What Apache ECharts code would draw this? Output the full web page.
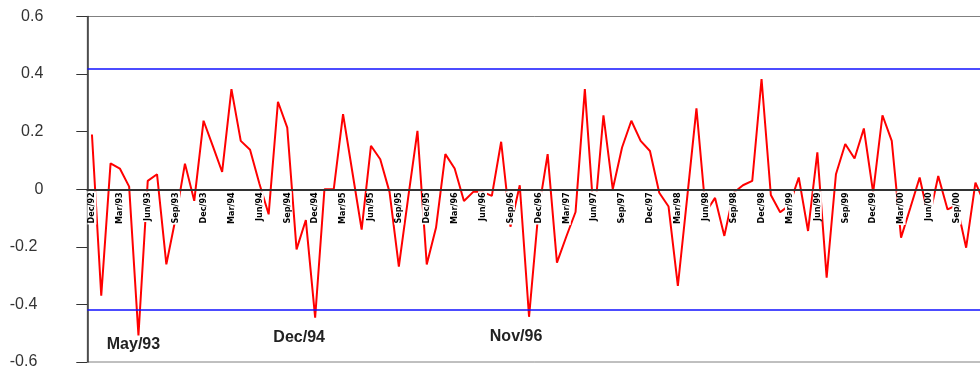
<!DOCTYPE html>
<html>
<head>
<meta charset="utf-8">
<script src="https://cdn.jsdelivr.net/npm/echarts@6/dist/echarts.min.js"></script>
<style>
html,body{margin:0;padding:0;background:#fff;}
#chart{width:980px;height:371px;}
</style>
</head>
<body>
<div id="chart"></div>
<script>
var categories = [
'Dec/92',
'Jan/93','Feb/93','Mar/93','Apr/93','May/93','Jun/93','Jul/93','Aug/93','Sep/93','Oct/93','Nov/93','Dec/93',
'Jan/94','Feb/94','Mar/94','Apr/94','May/94','Jun/94','Jul/94','Aug/94','Sep/94','Oct/94','Nov/94','Dec/94',
'Jan/95','Feb/95','Mar/95','Apr/95','May/95','Jun/95','Jul/95','Aug/95','Sep/95','Oct/95','Nov/95','Dec/95',
'Jan/96','Feb/96','Mar/96','Apr/96','May/96','Jun/96','Jul/96','Aug/96','Sep/96','Oct/96','Nov/96','Dec/96',
'Jan/97','Feb/97','Mar/97','Apr/97','May/97','Jun/97','Jul/97','Aug/97','Sep/97','Oct/97','Nov/97','Dec/97',
'Jan/98','Feb/98','Mar/98','Apr/98','May/98','Jun/98','Jul/98','Aug/98','Sep/98','Oct/98','Nov/98','Dec/98',
'Jan/99','Feb/99','Mar/99','Apr/99','May/99','Jun/99','Jul/99','Aug/99','Sep/99','Oct/99','Nov/99','Dec/99',
'Jan/00','Feb/00','Mar/00','Apr/00','May/00','Jun/00','Jul/00','Aug/00','Sep/00','Oct/00','Nov/00','Dec/00'
];

var values = [
0.19,-0.37,0.09,0.072,0.009,-0.508,0.029,0.052,-0.261,-0.1,0.089,-0.04,
0.238,0.15,0.06,0.348,0.168,0.137,0.02,-0.087,0.304,0.214,-0.209,-0.107,
-0.446,0,0,0.261,0.06,-0.14,0.151,0.104,-0.01,-0.269,-0.03,0.203,
-0.261,-0.133,0.122,0.072,-0.041,-0.009,-0.009,-0.023,0.165,-0.13,0.014,-0.443,
-0.08,0.122,-0.255,-0.165,-0.079,0.348,-0.11,0.257,0,0.145,0.238,0.168,
0.133,-0.012,-0.06,-0.336,-0.03,0.281,-0.08,-0.03,-0.162,-0.012,0.014,0.029,
0.383,-0.02,-0.08,-0.055,0.041,-0.145,0.128,-0.307,0.052,0.157,0.107,0.211,
-0.012,0.257,0.168,-0.168,-0.064,0.041,-0.104,0.046,-0.07,-0.055,-0.203,0.023,
-0.05
];

var controlLimits = [0.417, -0.417];
var yTicks = { min: -0.6, max: 0.6, interval: 0.2 };

var annotationMonths = ['May/93', 'Dec/94', 'Nov/96'];
var annotationOffsets = [[-5, 9], [-16, 20], [-13, 20]];

var gridTop = 16.5, gridHeight = 345.5;
// shift the category axis (line + labels) from the bottom edge up to value 0
var zeroOffset = -gridHeight * (0 - yTicks.min) / (yTicks.max - yTicks.min);

var chart = echarts.init(document.getElementById('chart'), null, { renderer: 'canvas' });

var markPoints = annotationMonths.map(function (m, k) {
  var idx = categories.indexOf(m);
  return {
    coord: [m, values[idx]],
    symbol: 'circle',
    symbolSize: 1,
    itemStyle: { color: 'rgba(0,0,0,0)' },
    label: {
      show: true,
      position: 'inside',
      offset: annotationOffsets[k],
      formatter: m,
      fontFamily: 'Liberation Sans, Arial, sans-serif',
      fontWeight: 'bold',
      fontSize: 16,
      color: '#222'
    }
  };
});

var option = {
  backgroundColor: '#fff',
  animation: false,
  grid: {
    left: 87.3,
    top: gridTop,
    height: gridHeight,
    width: categories.length * 9.3,
    show: true,
    borderColor: '#808080',
    borderWidth: 1,
    containLabel: false,
    outerBoundsMode: 'none'
  },
  xAxis: {
    type: 'category',
    data: categories,
    boundaryGap: true,
    position: 'bottom',
    offset: zeroOffset,
    z: 5,
    axisLine: { onZero: false, lineStyle: { color: '#333', width: 2 } },
    axisTick: { show: false },
    splitLine: { show: false },
    axisLabel: {
      interval: 2,
      rotate: 90,
      margin: 2,
      fontSize: 9,
      fontWeight: 'bold',
      fontFamily: 'Liberation Sans Narrow, DejaVu Sans Condensed, sans-serif',
      color: '#000',
      backgroundColor: '#fff',
      padding: [0, 1, 0, 1],
      hideOverlap: false
    }
  },
  yAxis: {
    type: 'value',
    min: yTicks.min,
    max: yTicks.max,
    interval: yTicks.interval,
    axisLine: { show: true, lineStyle: { color: '#333', width: 1.5 } },
    axisTick: { show: true, inside: false, length: 11, lineStyle: { color: '#333', width: 1 } },
    splitLine: { show: false },
    axisLabel: {
      margin: 44,
      fontSize: 16,
      fontFamily: 'Liberation Sans, Arial, sans-serif',
      color: '#333',
      formatter: function (v) {
        var s = String(Math.round(v * 10) / 10);
        return v < -1e-9 ? '{n|' + s + '}' : '{p|' + s + '}';
      },
      rich: {
        p: { fontSize: 16, color: '#333', fontFamily: 'Liberation Sans, Arial, sans-serif', padding: [0, 0, 0, 0] },
        n: { fontSize: 16, color: '#333', fontFamily: 'Liberation Sans, Arial, sans-serif', padding: [0, 6, 0, 0] }
      }
    }
  },
  series: [{
    type: 'line',
    data: values,
    symbol: 'none',
    z: 2,
    lineStyle: { color: '#ff0000', width: 2 },
    itemStyle: { color: '#ff0000' },
    markLine: {
      silent: true,
      symbol: ['none', 'none'],
      label: { show: false },
      lineStyle: { color: '#1010ff', width: 1.5, type: 'solid' },
      data: controlLimits.map(function (v) { return { yAxis: v }; })
    },
    markPoint: {
      silent: true,
      data: markPoints
    }
  }]
};

chart.setOption(option);
</script>
</body>
</html>
